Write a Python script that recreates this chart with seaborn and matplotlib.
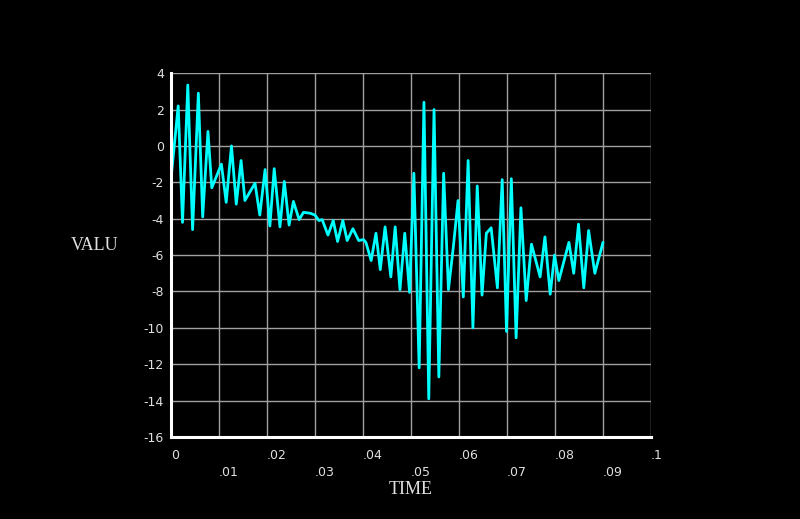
import matplotlib
matplotlib.use("Agg")
import matplotlib.pyplot as plt
import seaborn as sns
import pandas as pd

# Time/value vertices
times = [0.0, 0.0015, 0.0024, 0.0035, 0.0045, 0.0057, 0.0066, 0.0077, 0.0085, 0.0105,
         0.0115, 0.0126, 0.0136, 0.0146, 0.0154, 0.0175, 0.0185, 0.0196, 0.0206, 0.0215,
         0.0227, 0.0236, 0.0246, 0.0255, 0.0267, 0.0276, 0.0290, 0.0300, 0.0308, 0.0315,
         0.0327, 0.0338, 0.0347, 0.0358, 0.0367, 0.0379, 0.0391, 0.0401, 0.0406, 0.0417,
         0.0427, 0.0436, 0.0446, 0.0458, 0.0467, 0.0477, 0.0487, 0.0497, 0.0506, 0.0517,
         0.0527, 0.0537, 0.0548, 0.0558, 0.0568, 0.0578, 0.0588, 0.0598, 0.0609, 0.0619,
         0.0629, 0.0638, 0.0648, 0.0657, 0.0667, 0.0680, 0.0690, 0.0699, 0.0709, 0.0719,
         0.0729, 0.0740, 0.0751, 0.0769, 0.0779, 0.0790, 0.0799, 0.0808, 0.0829, 0.0839,
         0.0849, 0.0860, 0.0870, 0.0883, 0.0900]
values = [-1.8, 2.2, -4.2, 3.35, -4.6, 2.9, -3.9, 0.8, -2.3, -1.0,
          -3.1, 0.0, -3.2, -0.8, -3.0, -2.05, -3.8, -1.3, -4.4, -1.25,
          -4.45, -1.95, -4.35, -3.05, -4.05, -3.65, -3.7, -3.8, -4.1, -4.05,
          -4.9, -4.1, -5.25, -4.1, -5.2, -4.55, -5.2, -5.15, -5.3, -6.3,
          -4.8, -6.8, -4.45, -7.2, -4.45, -7.9, -4.8, -8.05, -1.5, -12.2,
          2.4, -13.9, 2.0, -12.7, -1.5, -7.9, -5.6, -3.0, -8.3, -0.8,
          -10.0, -2.2, -8.2, -4.8, -4.5, -7.8, -1.85, -10.2, -1.8, -10.55,
          -3.4, -8.5, -5.4, -7.2, -5.0, -8.15, -6.0, -7.4, -5.3, -7.0,
          -4.3, -7.8, -4.65, -7.0, -5.3]

x_ticks = [0.0, 0.01, 0.02, 0.03, 0.04, 0.05, 0.06, 0.07, 0.08, 0.09, 0.1]
x_labels = ["0", ".01", ".02", ".03", ".04", ".05", ".06", ".07", ".08", ".09", ".1"]
y_ticks = [4, 2, 0, -2, -4, -6, -8, -10, -12, -14, -16]
y_labels = ["4", "2", "0", "-2", "-4", "-6", "-8", "-10", "-12", "-14", "-16"]

df = pd.DataFrame({"TIME": times, "VALU": values})

sns.set_theme(style="darkgrid", rc={
    "figure.facecolor": "black",
    "axes.facecolor": "black",
    "grid.color": "#a0a0a0",
    "grid.linewidth": 1.0,
    "axes.edgecolor": "white",
})
plt.rcParams["font.family"] = ["DejaVu Sans"]

fig = plt.figure(figsize=(8.0, 5.19), dpi=100)
ax = fig.add_axes([0.21375, 0.158, 0.6, 0.701])

sns.lineplot(data=df, x="TIME", y="VALU", color="#00ffff", linewidth=2.0,
             estimator=None, sort=False, ax=ax)

ax.set_xlim(0, 0.1)
ax.set_ylim(-16, 4)
ax.set_xticks(x_ticks)
ax.set_xticklabels(x_labels, ha="left")
ax.set_yticks(y_ticks)
ax.set_yticklabels(y_labels)

# tick sizes are in points (1 pt = 1.39 px here)
ax.tick_params(axis="x", colors="#d0d0d0", labelcolor="#e0e0e0", length=6, width=1,
               direction="out", labelsize=9, pad=3)
ax.tick_params(axis="y", colors="#d0d0d0", labelcolor="#e0e0e0", length=3, width=1,
               direction="out", labelsize=9, pad=2)
# odd labels sit on a second row, as in the reference
for tick in ax.xaxis.get_major_ticks()[1::2]:
    tick.set_pad(15)

for side in ["top", "right"]:
    ax.spines[side].set_visible(False)
for side in ["left", "bottom"]:
    ax.spines[side].set_color("white")
    ax.spines[side].set_linewidth(2.2)

ax.set_xlabel("")
ax.set_ylabel("")
fig.text(411 / 800, 1 - 490 / 519, "TIME", ha="center", va="center", color="#e0e0e0",
         fontsize=13, family="Liberation Serif")
fig.text(95 / 800, 1 - 246 / 519, "VALU", ha="center", va="center", color="#e0e0e0",
         fontsize=13, family="Liberation Serif")

fig.savefig("out.png", dpi=100, facecolor="black")
plt.close(fig)
